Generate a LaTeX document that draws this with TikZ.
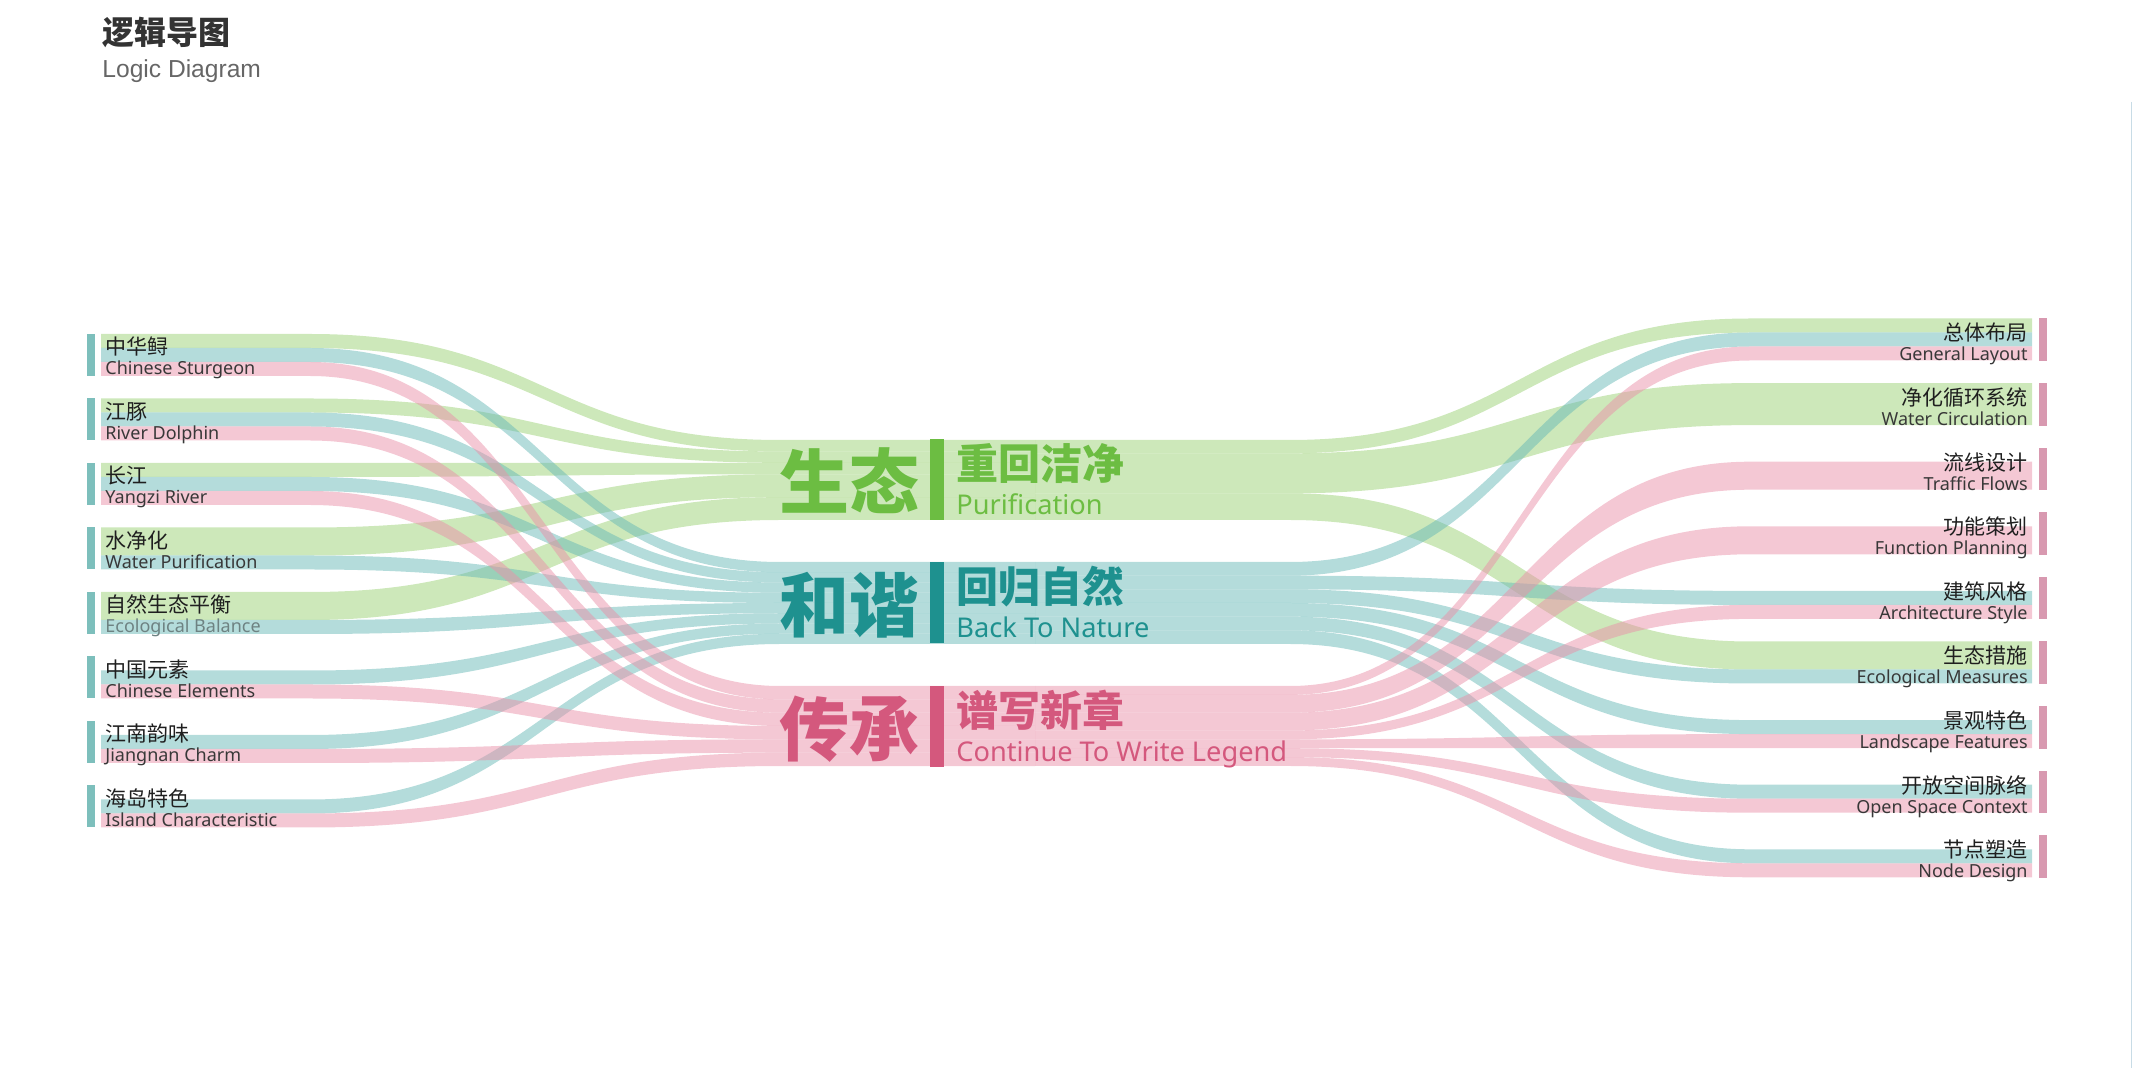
\documentclass[tikz,border=0pt]{standalone}
\usepackage{fontspec}
\setmainfont{Noto Sans}
\newfontfamily\cjk{Noto Sans CJK SC}
\newfontfamily\arialfont{Liberation Sans}
\usepackage{xcolor}
\usetikzlibrary{positioning}
\definecolor{ecogreen}{HTML}{6CBD42}
\definecolor{harmteal}{HTML}{1E918F}
\definecolor{herpink}{HTML}{D4587D}
\definecolor{bandgreen}{HTML}{9BD175}
\definecolor{bandteal}{HTML}{69B9B7}
\definecolor{bandpink}{HTML}{E991A9}
\definecolor{srcbarcol}{HTML}{7DBFBC}
\definecolor{dstbarcol}{HTML}{D899B0}
\definecolor{edgecol}{HTML}{C8DCE6}
\definecolor{entext}{HTML}{383838}
\definecolor{enfaded}{HTML}{6E8282}
\tikzset{
    band/.style     = {fill = #1, fill opacity = 0.5},
    zhlabel/.style  = {inner sep = 0pt, font = \cjk\fontsize{10.5}{12}\selectfont, text = black!88},
    enlabel/.style  = {inner sep = 0pt, font = \fontsize{9}{11}\selectfont},
    bigword/.style  = {inner sep = 0pt, anchor = base east, font = \cjk\bfseries\fontsize{35}{40}\selectfont},
    subword/.style  = {inner sep = 0pt, anchor = base west, text depth = 0pt, font = \cjk\bfseries\fontsize{21}{24}\selectfont},
    subtext/.style  = {inner sep = 0pt, anchor = base west, text height = 0.7em, font = \fontsize{13.6}{16}\selectfont},
}

\begin{document}
\begin{tikzpicture}[x=0.5pt, y=-0.5pt]
    \useasboundingbox (0,0) rectangle (2133,1068);

    \node (title) [inner sep=0pt, anchor=base west, font=\cjk\bfseries\fontsize{16}{18}\selectfont, text=black!80] at (102,45) {逻辑导图};
    \node (subtitle) [inner sep=0pt, anchor=base west, font=\arialfont\fontsize{12.3}{14}\selectfont, text=black!60] at (102,78) {Logic Diagram};

    \draw [edgecol, line width=0.75pt] (2131.5,102) -- (2131.5,1068);

    % left flows: colour / source top / source height / centre top / centre height
    \foreach \c/\ys/\hs/\yc/\hc in {
        bandgreen/334/14/440/11.43, bandgreen/398.5/14/451.43/11.43, bandgreen/463/14/462.86/11.43,
        bandgreen/527.5/28/474.29/22.86, bandgreen/592/28/497.14/22.86,
        bandteal/348/14/562/10.25, bandteal/412.5/14/572.25/10.25, bandteal/477/14/582.5/10.25,
        bandteal/555.5/14/592.75/10.25, bandteal/620/14/603/10.25, bandteal/670.5/14/613.25/10.25,
        bandteal/735/14/623.5/10.25, bandteal/799.5/14/633.75/10.25,
        bandpink/362/14/686/13.33, bandpink/426.5/14/699.33/13.33, bandpink/491/14/712.67/13.33,
        bandpink/684.5/14/726/13.33, bandpink/749/14/739.33/13.33, bandpink/813.5/14/752.67/13.34}
        \fill [band=\c] (101,\ys) -- (310,\ys) .. controls (545,\ys) and (545,\yc) .. (780,\yc) -- (1035,\yc)
            -- (1035,{\yc+\hc}) -- (780,{\yc+\hc}) .. controls (545,{\yc+\hc}) and (545,{\ys+\hs}) .. (310,{\ys+\hs}) -- (101,{\ys+\hs}) -- cycle;

    % right flows: colour / centre top / centre height / target top / target height
    \foreach \c/\yc/\hc/\yd/\hd in {
        bandgreen/440/13.33/318.5/14, bandgreen/453.33/40/383.1/42, bandgreen/493.33/26.67/641.5/28,
        bandteal/562/13.67/332.5/14, bandteal/575.67/13.67/590.9/14, bandteal/589.33/13.67/669.5/14,
        bandteal/603/13.67/720.1/14, bandteal/616.67/13.67/784.7/14, bandteal/630.33/13.67/849.3/14,
        bandpink/686/8.89/346.5/14, bandpink/694.89/17.78/461.7/28, bandpink/712.67/17.78/526.3/28,
        bandpink/730.44/8.89/604.9/14, bandpink/739.33/8.89/734.1/14, bandpink/748.22/8.89/798.7/14,
        bandpink/757.11/8.89/863.3/14}
        \fill [band=\c] (1035,\yc) -- (1290,\yc) .. controls (1520,\yc) and (1520,\yd) .. (1750,\yd) -- (2032,\yd)
            -- (2032,{\yd+\hd}) -- (1750,{\yd+\hd}) .. controls (1520,{\yd+\hd}) and (1520,{\yc+\hc}) .. (1290,{\yc+\hc}) -- (1035,{\yc+\hc}) -- cycle;

    % side bars
    \foreach \i in {0,...,7}
        \fill [srcbarcol] (87,{334+64.5*\i}) rectangle (95,{376+64.5*\i});
    \foreach \i in {0,...,8}
        \fill [dstbarcol] (2039,{318.5+64.6*\i}) rectangle (2047,{361+64.6*\i});

    % source labels
    \foreach \zh/\en/\tc [count=\i from 0] in {中华鲟/Chinese Sturgeon/entext, 江豚/River Dolphin/entext,
        长江/Yangzi River/entext, 水净化/Water Purification/entext, 自然生态平衡/Ecological Balance/enfaded,
        中国元素/Chinese Elements/entext, 江南韵味/Jiangnan Charm/entext, 海岛特色/Island Characteristic/entext} {
        \node (src-zh-\i) [zhlabel, anchor=base west] at (105,{355+64.5*\i}) {\zh};
        \node (src-en-\i) [enlabel, text=\tc, anchor=base west] at (105,{375+64.5*\i}) {\en};
    }

    % target labels
    \foreach \zh/\en [count=\i from 0] in {总体布局/General Layout, 净化循环系统/Water Circulation,
        流线设计/Traffic Flows, 功能策划/Function Planning, 建筑风格/Architecture Style,
        生态措施/Ecological Measures, 景观特色/Landscape Features, 开放空间脉络/Open Space Context,
        节点塑造/Node Design} {
        \node (dst-zh-\i) [zhlabel, anchor=base east] at (2028,{341+64.6*\i}) {\zh};
        \node (dst-en-\i) [enlabel, text=entext, anchor=base east] at (2028,{361+64.6*\i}) {\en};
    }

    % centre themes
    \foreach \col/\ytop/\bigw/\subw/\engw [count=\k] in {ecogreen/439/生态/重回洁净/Purification,
        harmteal/562/和谐/回归自然/Back To Nature, herpink/686/传承/谱写新章/Continue To Write Legend} {
        \fill [\col] (930,\ytop) rectangle (944,{\ytop+81});
        \node (theme-\k) [bigword, text=\col] at (920,{\ytop+70}) {\bigw};
        \node (motto-\k) [subword, text=\col] at (956,{\ytop+41}) {\subw};
        \node (motto-en-\k) [subtext, text=\col] at (956,{\ytop+76}) {\engw};
    }
\end{tikzpicture}
\end{document}
